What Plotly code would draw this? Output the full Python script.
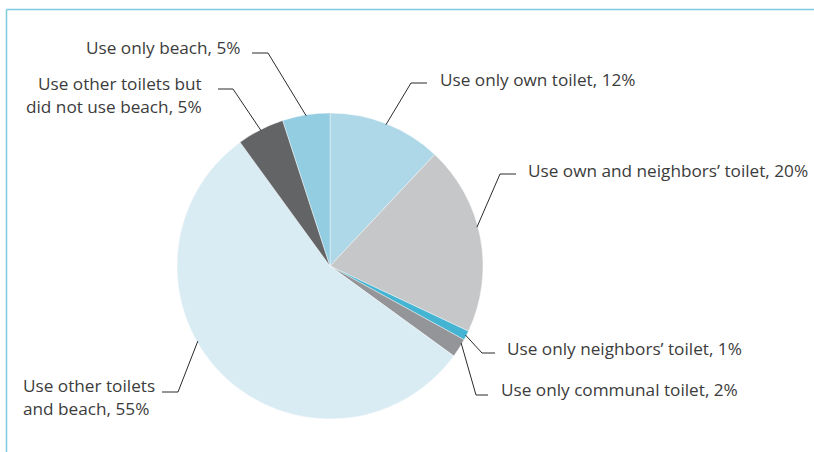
import math
import plotly.graph_objects as go

# Toilet-use categories, shares (%) and slice colours
labels = [
    "Use only own toilet",
    "Use own and neighbors’ toilet",
    "Use only neighbors’ toilet",
    "Use only communal toilet",
    "Use other toilets and beach",
    "Use other toilets but did not use beach",
    "Use only beach",
]
shares = [12, 20, 1, 2, 55, 5, 5]
colors = ["#aed8e7", "#c6c7c9", "#45b4d2", "#939598", "#d9ebf3", "#636466", "#93cde2"]

# Label text as printed beside each slice (line breaks where the label wraps)
label_text = [
    ["Use only own toilet, 12%"],
    ["Use own and neighbors’ toilet, 20%"],
    ["Use only neighbors’ toilet, 1%"],
    ["Use only communal toilet, 2%"],
    ["Use other toilets", "and beach, 55%"],
    ["Use other toilets but", "did not use beach, 5%"],
    ["Use only beach, 5%"],
]

W, H = 814, 452
CX, CY, R = 330, 266, 153          # pie centre and radius in pixels

# Leader layout per slice: angle nudge (deg), elbow px, line end px, text x px,
# text anchor, first-line centre y px
leader_layout = [
    dict(nudge=0,    elbow=(411, 83),  end=(427, 83),  tx=438, anchor="left",  ty=79),
    dict(nudge=-4,   elbow=(500, 174), end=(516, 174), tx=526, anchor="left",  ty=170),
    dict(nudge=0,    elbow=(482, 353), end=(495, 353), tx=505, anchor="left",  ty=348),
    dict(nudge=-2,   elbow=(476, 395), end=(488, 395), tx=499, anchor="left",  ty=389),
    dict(nudge=15.4, elbow=(178, 392), end=(162, 392), tx=21,  anchor="left",  ty=385),
    dict(nudge=0,    elbow=(233, 89),  end=(218, 89),  tx=204, anchor="right", ty=83),
    dict(nudge=0,    elbow=(268, 53),  end=(252, 53),  tx=243, anchor="right", ty=47),
]
LINE_GAP = 23
FONT = "Open Sans"
FONT_SIZE = 17.2
TEXT_COLOR = "#3c3c3c"


def px(x, y):
    return x / W, 1 - y / H


fig = go.Figure(
    go.Pie(
        labels=labels,
        values=shares,
        sort=False,
        direction="clockwise",
        rotation=0,
        marker=dict(colors=colors, line=dict(color="white", width=0.4)),
        textinfo="none",
        hoverinfo="label+percent",
        showlegend=False,
        domain=dict(x=[(CX - R) / W, (CX + R) / W], y=[(H - CY - R) / H, (H - CY + R) / H]),
    )
)

shapes = []
annotations = []
total = sum(shares)
cum = 0
for val, lines, lay in zip(shares, label_text, leader_layout):
    mid = (cum + val / 2) / total * 360 + lay["nudge"]
    cum += val
    a = math.radians(mid)
    sx, sy = CX + (R - 1) * math.sin(a), CY - (R - 1) * math.cos(a)
    pts = [(sx, sy), lay["elbow"], lay["end"]]
    for (x0, y0), (x1, y1) in zip(pts[:-1], pts[1:]):
        p0, p1 = px(x0, y0), px(x1, y1)
        shapes.append(dict(type="line", xref="paper", yref="paper",
                           x0=p0[0], y0=p0[1], x1=p1[0], y1=p1[1],
                           line=dict(color="#2b2b2b", width=1)))
    for i, line in enumerate(lines):
        tx, ty = px(lay["tx"], lay["ty"] + i * LINE_GAP)
        annotations.append(dict(text=line, xref="paper", yref="paper", x=tx, y=ty,
                                xanchor=lay["anchor"], yanchor="middle", showarrow=False,
                                font=dict(family=FONT, size=FONT_SIZE, color=TEXT_COLOR)))

# Thin frame along the top and left edges
frame = "#7ccbdd"
shapes.append(dict(type="line", xref="paper", yref="paper", x0=6.5 / W, x1=1,
                   y0=1 - 9.5 / H, y1=1 - 9.5 / H, line=dict(color=frame, width=1.5)))
shapes.append(dict(type="line", xref="paper", yref="paper", x0=6.5 / W, x1=6.5 / W,
                   y0=0, y1=1 - 9.5 / H, line=dict(color=frame, width=1.5)))

fig.update_layout(
    width=W, height=H,
    margin=dict(l=0, r=0, t=0, b=0),
    paper_bgcolor="white", plot_bgcolor="white",
    shapes=shapes, annotations=annotations,
)

fig.write_html("out.html")
